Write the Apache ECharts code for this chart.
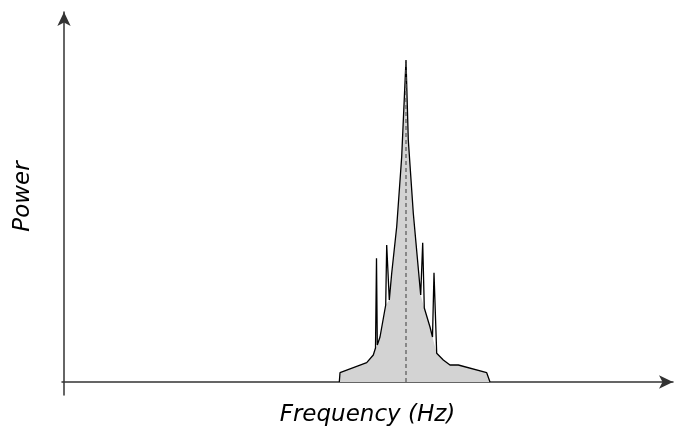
<!DOCTYPE html>
<html><head><meta charset="utf-8">
<script src="https://cdn.jsdelivr.net/npm/echarts@6/dist/echarts.min.js"></script>
<style>html,body{margin:0;padding:0;background:#fff}#c{width:674px;height:430px}</style>
</head><body><div id="c"></div>
<script>
// Frequency / power values (arbitrary units)
const outlineFreq  = [275.3, 276, 302.7, 309.3, 311.5, 312.5, 313.3, 316, 321.7, 322.7, 325.3, 327.7, 332.7, 337.7, 342, 344.3, 349.3, 356.7, 358.7, 360.3, 366, 368.5, 370, 372.7, 379.3, 386, 394.3, 422.7, 426];
const outlinePower = [0, 9.3, 19.3, 27, 34, 123.7, 37, 45, 77, 137, 82, 108.7, 155.3, 225.3, 322, 242, 168.7, 87, 139.3, 74, 55, 45, 109.3, 28.7, 22, 17, 17, 9.3, 0];
// envelope (fill) – same outline without the narrow spikes
const spikeIdx = [5, 9, 18, 22];
const centerFreq = 342;
const centerPower = 322;

const outline = outlineFreq.map((f, i) => [f, outlinePower[i]]);
const envelope = outline.filter((p, i) => spikeIdx.indexOf(i) < 0);

const chart = echarts.init(document.getElementById('c'), null, {renderer: 'canvas'});
chart.setOption({
  animation: false,
  grid: {left: 62, right: 1, top: 12, bottom: 35, containLabel: false, outerBoundsMode: 'none'},
  xAxis: {
    type: 'value', min: -2, max: 609,
    name: 'Frequency (Hz)', nameLocation: 'middle', nameGap: 9,
    nameTextStyle: {fontFamily: 'DejaVu Sans', fontStyle: 'italic', fontSize: 23, color: '#000', verticalAlign: 'top'},
    axisLine: {onZero: true, symbol: ['none', 'arrow'], symbolSize: [10, 14], lineStyle: {color: '#333', width: 1.5}},
    axisTick: {show: false}, axisLabel: {show: false}, splitLine: {show: false}
  },
  yAxis: {
    type: 'value', min: -13, max: 370,
    name: 'Power', nameLocation: 'middle', nameGap: 27, nameRotate: 90,
    nameTextStyle: {fontFamily: 'DejaVu Sans', fontStyle: 'italic', fontSize: 23, color: '#000', padding: [0, 0, 0, 14]},
    axisLine: {onZero: true, symbol: ['none', 'arrow'], symbolSize: [10, 14], lineStyle: {color: '#333', width: 1.5}},
    axisTick: {show: false}, axisLabel: {show: false}, splitLine: {show: false}
  },
  series: [
    {type: 'line', data: envelope, symbol: 'none', lineStyle: {width: 0}, areaStyle: {color: '#d3d3d3', opacity: 1}, z: 1},
    {type: 'line', data: outline, symbol: 'none', lineStyle: {color: '#000', width: 1.3}, z: 3},
    {type: 'line', data: [[centerFreq, 0], [centerFreq, centerPower]], symbol: 'none',
     lineStyle: {color: '#555', width: 1.2, type: [4, 3]}, z: 4}
  ]
});
</script></body></html>
